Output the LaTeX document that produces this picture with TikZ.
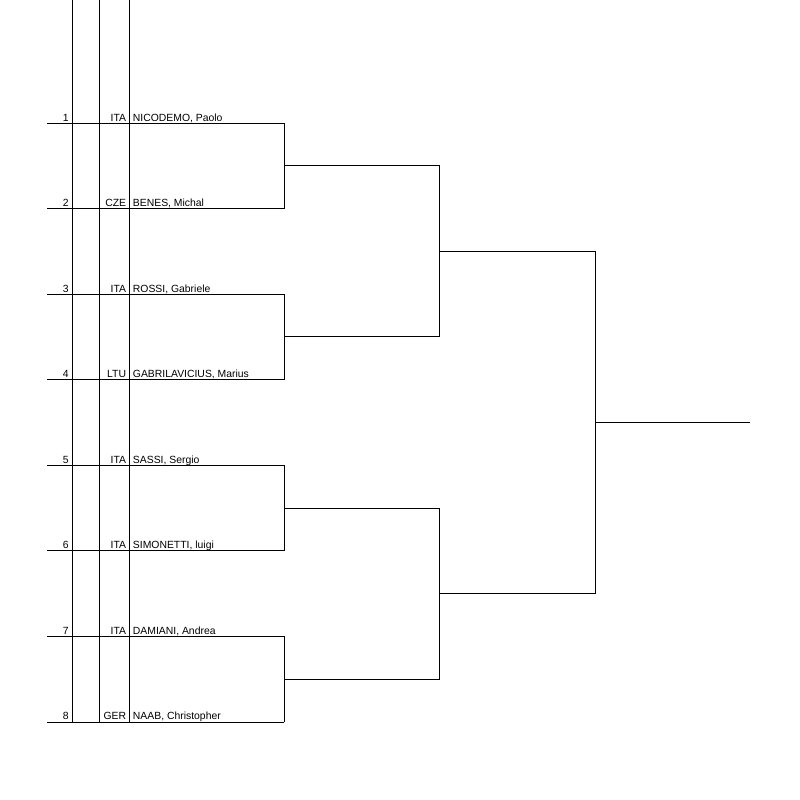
\documentclass[tikz,border=0pt]{standalone}
\usepackage{fontspec}
\setmainfont{Liberation Sans}
\usepackage{tikz}
\usetikzlibrary{calc}

\begin{document}
\begin{tikzpicture}[x=1pt, y=-1pt, line width=0.9pt, line cap=rect,
	every node/.style={inner sep=0pt, font=\fontsize{10.4}{12}\selectfont},
	seed/.style={anchor=base east},
	nation/.style={anchor=base east},
	player/.style={anchor=base west}]
\useasboundingbox (0,0) rectangle (800,800);
% columns
\foreach \c/\x in {s/72.5, n/99.5, p/129} {
	\coordinate (top-\c) at (\x,0);
	\coordinate (bot-\c) at (\x,722);
	\draw (top-\c) -- (bot-\c);
}
% players
\foreach \i/\nat/\name in {1/ITA/{NICODEMO, Paolo}, 2/CZE/{BENES, Michal},
		3/ITA/{ROSSI, Gabriele}, 4/LTU/{GABRILAVICIUS, Marius},
		5/ITA/{SASSI, Sergio}, 6/ITA/{SIMONETTI, luigi},
		7/ITA/{DAMIANI, Andrea}, 8/GER/{NAAB, Christopher}} {
	\coordinate (l-\i) at (47,{123+85.57*(\i-1)});
	\coordinate (r-\i) at ($(l-\i)+(237,0)$);
	\draw (l-\i) -- (r-\i);
	\node[seed] (seed-\i) at ($(l-\i)+(22,-2)$) {\i};
	\node[nation] (nat-\i) at ($(l-\i)+(79.5,-2)$) {\nat};
	\node[player] (name-\i) at ($(l-\i)+(85.5,-2)$) {\name};
}
% first round
\foreach \a/\b/\k in {1/2/1, 3/4/2, 5/6/3, 7/8/4} {
	\draw (r-\a) -- (r-\b);
	\coordinate (q-\k) at ($(r-\a)!0.5!(r-\b)$);
	\coordinate (qr-\k) at ($(q-\k)+(155,0)$);
	\draw (q-\k) -- (qr-\k);
}
% semifinals
\foreach \a/\b/\k in {1/2/1, 3/4/2} {
	\draw (qr-\a) -- (qr-\b);
	\coordinate (s-\k) at ($(qr-\a)!0.5!(qr-\b)$);
	\coordinate (sr-\k) at ($(s-\k)+(156,0)$);
	\draw (s-\k) -- (sr-\k);
}
% final
\draw (sr-1) -- (sr-2);
\coordinate (f) at ($(sr-1)!0.5!(sr-2)$);
\coordinate (fr) at ($(f)+(155,0)$);
\draw (f) -- (fr);
\end{tikzpicture}
\end{document}
